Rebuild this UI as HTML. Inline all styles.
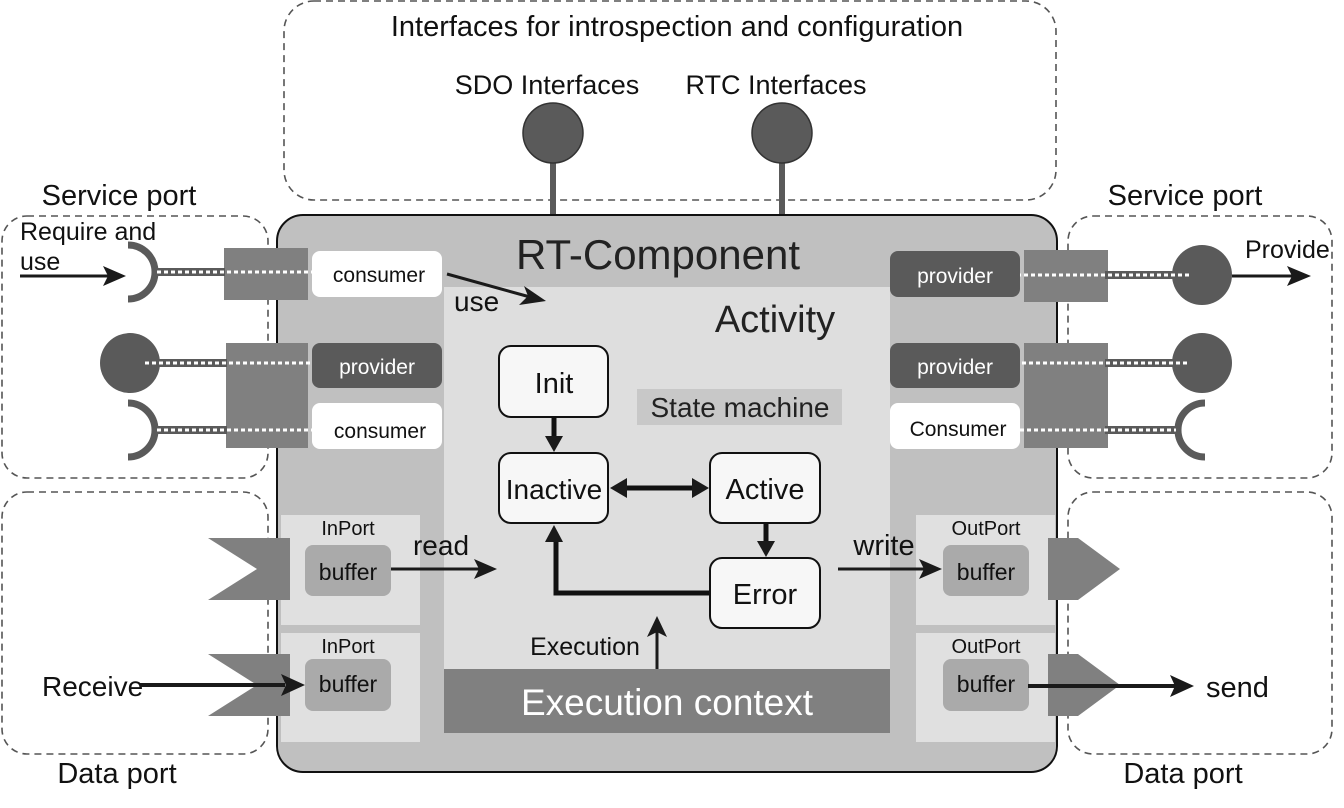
<!DOCTYPE html>
<html><head><meta charset="utf-8"><style>
html,body{margin:0;padding:0;background:#fff}
svg{display:block;font-family:"Liberation Sans",Arial,sans-serif}
</style></head><body>
<svg width="1344" height="808" viewBox="0 0 1344 808" xmlns="http://www.w3.org/2000/svg">
<style>
.dash{fill:none;stroke:#555;stroke-width:1.6;stroke-dasharray:7,5}
.st{fill:#f7f7f7;stroke:#111;stroke-width:2}
.t{fill:#111}
.h{fill:#1a1a1a}
</style>
<!-- dashed groups -->
<rect class="dash" x="284" y="1" width="772" height="199" rx="30"/>
<rect class="dash" x="2" y="216" width="266" height="262" rx="25"/>
<rect class="dash" x="1068" y="216" width="264" height="262" rx="25"/>
<rect class="dash" x="2" y="492" width="266" height="262" rx="25"/>
<rect class="dash" x="1068" y="492" width="264" height="262" rx="25"/>
<text x="677" y="36" font-size="29" text-anchor="middle" class="t">Interfaces for introspection and configuration</text>
<text x="547" y="94" font-size="27" text-anchor="middle" class="t">SDO Interfaces</text>
<text x="776" y="94" font-size="27" text-anchor="middle" class="t">RTC Interfaces</text>
<text x="119" y="205" font-size="29" text-anchor="middle" class="t">Service port</text>
<text x="1185" y="205" font-size="29" text-anchor="middle" class="t">Service port</text>
<text x="117" y="783" font-size="29" text-anchor="middle" class="t">Data port</text>
<text x="1183" y="783" font-size="29" text-anchor="middle" class="t">Data port</text>
<!-- stems + circles -->
<rect x="550" y="160" width="6" height="56" fill="#5a5a5a"/>
<rect x="779" y="160" width="6" height="56" fill="#5a5a5a"/>
<circle cx="553" cy="133" r="30" fill="#5a5a5a" stroke="#333" stroke-width="1.5"/>
<circle cx="782" cy="133" r="30" fill="#5a5a5a" stroke="#333" stroke-width="1.5"/>
<!-- main component -->
<rect x="277" y="215" width="780" height="557" rx="26" fill="#c0c0c0" stroke="#111" stroke-width="2"/>
<rect x="444" y="287" width="446" height="446" fill="#dedede"/>
<rect x="444" y="669" width="446" height="64" fill="#808080"/>
<text x="667" y="715" font-size="37" fill="#fff" text-anchor="middle">Execution context</text>
<text x="658" y="269" font-size="42" text-anchor="middle" fill="#222">RT-Component</text>
<text x="775" y="332" font-size="38" text-anchor="middle" fill="#222">Activity</text>
<!-- port panels -->
<rect x="281" y="515" width="139" height="110" fill="#e0e0e0"/>
<rect x="281" y="633" width="139" height="109" fill="#e0e0e0"/>
<rect x="916" y="515" width="139" height="110" fill="#e0e0e0"/>
<rect x="916" y="633" width="139" height="109" fill="#e0e0e0"/>
<text x="348" y="535" font-size="20" text-anchor="middle" class="t">InPort</text>
<text x="348" y="653" font-size="20" text-anchor="middle" class="t">InPort</text>
<text x="986" y="535" font-size="20" text-anchor="middle" class="t">OutPort</text>
<text x="986" y="653" font-size="20" text-anchor="middle" class="t">OutPort</text>
<rect x="305" y="545" width="86" height="51" rx="8" fill="#aaa"/>
<rect x="305" y="659" width="86" height="52" rx="8" fill="#aaa"/>
<rect x="943" y="545" width="86" height="51" rx="8" fill="#aaa"/>
<rect x="943" y="659" width="86" height="52" rx="8" fill="#aaa"/>
<text x="348" y="580" font-size="23" text-anchor="middle" class="t">buffer</text>
<text x="348" y="692" font-size="23" text-anchor="middle" class="t">buffer</text>
<text x="986" y="580" font-size="23" text-anchor="middle" class="t">buffer</text>
<text x="986" y="692" font-size="23" text-anchor="middle" class="t">buffer</text>
<polygon points="208,538 290,538 290,600 208,600 257,569" fill="#808080"/>
<polygon points="208,654 290,654 290,716 208,716 257,685" fill="#808080"/>
<polygon points="1048,538 1078,538 1120,569 1078,600 1048,600" fill="#808080"/>
<polygon points="1048,654 1078,654 1120,685 1078,716 1048,716" fill="#808080"/>
<!-- data arrows -->
<line x1="391" y1="569" x2="480" y2="569" stroke="#1a1a1a" stroke-width="3"/>
<polygon class="h" points="497,569 474,559 479,569 474,579"/>
<text x="441" y="555" font-size="28" text-anchor="middle" class="t">read</text>
<line x1="838" y1="569" x2="925" y2="569" stroke="#1a1a1a" stroke-width="3"/>
<polygon class="h" points="942,569 919,559 924,569 919,579"/>
<text x="884" y="555" font-size="29" text-anchor="middle" class="t">write</text>
<text x="42" y="696" font-size="28" class="t">Receive</text>
<line x1="140" y1="685" x2="285" y2="685" stroke="#1a1a1a" stroke-width="4"/>
<polygon class="h" points="305,685 281,674 286,685 281,696"/>
<line x1="1028" y1="686" x2="1175" y2="686" stroke="#1a1a1a" stroke-width="4"/>
<polygon class="h" points="1194,686 1170,675 1175,686 1170,697"/>
<text x="1206" y="697" font-size="29" class="t">send</text>
<!-- left service ports -->
<rect x="224" y="248" width="84" height="52" fill="#808080"/>
<rect x="226" y="343" width="82" height="105" fill="#808080"/>
<path d="M128,245 A27,27 0 0 1 128,299" fill="none" stroke="#5a5a5a" stroke-width="7"/>
<path d="M128,403 A27,27 0 0 1 128,457" fill="none" stroke="#5a5a5a" stroke-width="7"/>
<circle cx="130" cy="363" r="30" fill="#5a5a5a"/>
<rect x="155" y="268" width="70" height="8" fill="#5a5a5a"/>
<rect x="145" y="359" width="82" height="8" fill="#5a5a5a"/>
<rect x="155" y="426" width="72" height="8" fill="#5a5a5a"/>
<g stroke="#fff" stroke-width="3" stroke-dasharray="4,3">
<line x1="157" y1="272" x2="312" y2="272"/>
<line x1="145" y1="363" x2="314" y2="363"/>
<line x1="157" y1="430" x2="312" y2="430"/>
</g>
<rect x="312" y="251" width="130" height="46" rx="8" fill="#fff"/>
<rect x="312" y="343" width="130" height="45" rx="8" fill="#5a5a5a"/>
<rect x="312" y="403" width="130" height="46" rx="8" fill="#fff"/>
<text x="379" y="282" font-size="21" text-anchor="middle" class="t">consumer</text>
<text x="377" y="374" font-size="21" text-anchor="middle" fill="#fff">provider</text>
<text x="380" y="438" font-size="21" text-anchor="middle" class="t">consumer</text>
<text x="20" y="240" font-size="25" class="t">Require and</text>
<text x="20" y="270" font-size="25" class="t">use</text>
<line x1="20" y1="276" x2="108" y2="276" stroke="#1a1a1a" stroke-width="3"/>
<polygon class="h" points="126,276 103,266 108,276 103,286"/>
<!-- right service ports -->
<rect x="1024" y="250" width="84" height="52" fill="#808080"/>
<rect x="1024" y="343" width="84" height="105" fill="#808080"/>
<rect x="1105" y="271" width="80" height="8" fill="#5a5a5a"/>
<rect x="1105" y="359" width="80" height="8" fill="#5a5a5a"/>
<rect x="1105" y="426" width="75" height="8" fill="#5a5a5a"/>
<circle cx="1202" cy="275" r="30" fill="#5a5a5a"/>
<circle cx="1202" cy="363" r="30" fill="#5a5a5a"/>
<path d="M1205,403 A27,27 0 0 0 1205,457" fill="none" stroke="#5a5a5a" stroke-width="7"/>
<g stroke="#fff" stroke-width="3" stroke-dasharray="4,3">
<line x1="1010" y1="275" x2="1190" y2="275"/>
<line x1="1008" y1="363" x2="1190" y2="363"/>
<line x1="1020" y1="430" x2="1176" y2="430"/>
</g>
<rect x="890" y="251" width="130" height="46" rx="8" fill="#5a5a5a"/>
<rect x="890" y="343" width="130" height="45" rx="8" fill="#5a5a5a"/>
<rect x="890" y="403" width="130" height="46" rx="8" fill="#fff"/>
<text x="955" y="283" font-size="21" text-anchor="middle" fill="#fff">provider</text>
<text x="955" y="374" font-size="21" text-anchor="middle" fill="#fff">provider</text>
<text x="958" y="436" font-size="21" text-anchor="middle" class="t">Consumer</text>
<line x1="1232" y1="276" x2="1292" y2="276" stroke="#1a1a1a" stroke-width="3"/>
<polygon class="h" points="1311,276 1287,266 1292,276 1287,286"/>
<text x="1245" y="258" font-size="25" class="t">Provide</text>
<!-- use arrow -->
<line x1="447" y1="274" x2="530" y2="297" stroke="#1a1a1a" stroke-width="3"/>
<polygon class="h" points="546,301 524,286 528,296 519,305"/>
<text x="454" y="311" font-size="28" class="t">use</text>
<!-- state machine -->
<rect x="637" y="389" width="205" height="36" fill="#c8c8c8"/>
<text x="740" y="417" font-size="28" text-anchor="middle" fill="#222">State machine</text>
<rect class="st" x="499" y="346" width="109" height="71" rx="12"/>
<rect class="st" x="499" y="453" width="109" height="70" rx="12"/>
<rect class="st" x="710" y="453" width="110" height="70" rx="12"/>
<rect class="st" x="710" y="558" width="110" height="70" rx="12"/>
<text x="554" y="393" font-size="29" text-anchor="middle" class="t">Init</text>
<text x="554" y="499" font-size="28" text-anchor="middle" class="t">Inactive</text>
<text x="765" y="499" font-size="29" text-anchor="middle" class="t">Active</text>
<text x="765" y="604" font-size="29" text-anchor="middle" class="t">Error</text>
<g stroke="#111" stroke-width="5" fill="none">
<line x1="554" y1="418" x2="554" y2="440"/>
<line x1="625" y1="488" x2="695" y2="488"/>
<line x1="766" y1="524" x2="766" y2="545"/>
<polyline points="710,593 556,593 556,540"/>
</g>
<polygon class="h" points="554,452 545,436 563,436"/>
<polygon class="h" points="610,488 627,478 627,498"/>
<polygon class="h" points="709,488 692,478 692,498"/>
<polygon class="h" points="766,557 757,541 775,541"/>
<polygon class="h" points="554,525 545,542 563,542"/>
<line x1="657" y1="669" x2="657" y2="632" stroke="#1a1a1a" stroke-width="3"/>
<polygon class="h" points="657,616 647,637 657,632 667,637"/>
<text x="585" y="655" font-size="25" text-anchor="middle" class="t">Execution</text>
</svg>
</body></html>
